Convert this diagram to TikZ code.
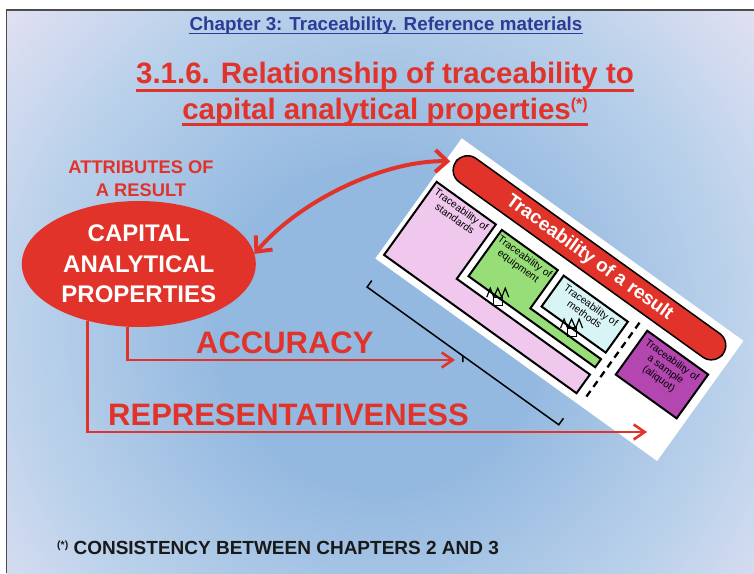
\documentclass[tikz,border=0pt]{standalone}
\usepackage{fontspec}
\setmainfont{Liberation Sans}
\usetikzlibrary{arrows.meta, shapes.geometric}

\definecolor{slideblue}{HTML}{94B9E0}
\definecolor{slidemid}{HTML}{BCD2EB}
\definecolor{slideedge}{HTML}{E6E2F3}
\definecolor{slidecorner}{HTML}{F3E9F7}
\definecolor{chapblue}{HTML}{2E3A96}
\definecolor{tred}{HTML}{E1332A}
\definecolor{stdpink}{HTML}{F0C8EE}
\definecolor{eqgreen}{HTML}{98DE78}
\definecolor{methcyan}{HTML}{D8F4F4}
\definecolor{smpurple}{HTML}{B446B0}

\pgfdeclareradialshading{slidebg}{\pgfpoint{0bp}{0bp}}{color(0bp)=(slideblue); color(11bp)=(slideblue); color(24bp)=(slidemid); color(34bp)=(slideedge); color(75bp)=(slidecorner)}

\tikzset{
  linkmark/.pic={
    \draw[line width=1.2pt] (-11,0) -- (-7.5,-9) -- (-4,0) -- (0,-9) -- (4,0) -- (7.5,-9) -- (11,0);
    \draw[line width=1.2pt] (-4.5,0) rectangle (4.5,8.5);
  }
}

\begin{document}
\begin{tikzpicture}[x=1pt, y=-1pt,
  chaptext/.style={font={\bfseries\fontsize{18.8}{22}\selectfont}, text=chapblue, inner sep=0pt},
  titletext/.style={font={\bfseries\fontsize{29.5}{34}\selectfont}, text=tred, inner sep=0pt},
  attrtext/.style={font={\bfseries\fontsize{18.3}{22.7}\selectfont}, text=tred, align=center, inner sep=0pt},
  capell/.style={ellipse, fill=tred, minimum width=234pt, minimum height=126pt, inner sep=0pt,
    text=white, align=center, font={\bfseries\fontsize{24}{30.5}\selectfont}},
  bigword/.style={font={\bfseries\fontsize{31}{36}\selectfont}, text=tred, inner sep=0pt},
  foottext/.style={font={\bfseries\fontsize{19}{22}\selectfont}, text=black!90, inner sep=0pt},
  redline/.style={draw=tred, line width=2.6pt, arrows={-Straight Barb[length=11pt,width=15pt]}},
  curvearrow/.style={draw=tred, line width=4pt,
    arrows={Straight Barb[length=12pt,width=22pt]-Straight Barb[length=12pt,width=22pt]}},
  boxline/.style={draw=black, line width=2pt, line join=miter},
  pill/.style={draw=black, line width=1.5pt, fill=tred, rounded corners=14.5pt, minimum width=329pt,
    minimum height=29pt, inner sep=0pt, text=white, font={\bfseries\fontsize{19}{22}\selectfont}, transform shape},
  boxtext/.style={anchor=north, align=center, inner sep=0pt, text=black,
    font={\fontsize{10.3}{11.3}\selectfont}, transform shape},
  brk/.style={draw=black, line width=1.5pt}
]
\useasboundingbox (0,0) rectangle (754,573);

% slide
\fill[white] (0,0) rectangle (754,573);
\begin{scope}
  \clip (6.5,10) rectangle (754,573);
  \shade[shading=slidebg] (6.5,-45) rectangle (754,700);
\end{scope}
\draw[black!70, line width=1.2pt] (6.5,573) -- (6.5,10) -- (754,10);

% headings
\node[chaptext, anchor=base] (chap) at (386,30.7) {Chapter 3: Traceability. Reference materials};
\draw[chapblue, line width=1.8pt] ([yshift=-2.8pt]chap.base west) -- ([yshift=-2.8pt]chap.base east);
\node[titletext, anchor=base] (tl1) at (385,83.5) {3.1.6. Relationship of traceability to};
\node[titletext, anchor=base] (tl2) at (385,119) {capital analytical properties\raisebox{10pt}{\fontsize{16}{16}\selectfont(*)}};
\draw[tred, line width=3pt] ([yshift=-6.5pt]tl1.base west) -- ([yshift=-6.5pt]tl1.base east);
\draw[tred, line width=3pt] ([yshift=-5.5pt]tl2.base west) -- ([yshift=-5.5pt]tl2.base east);

% tarjeta girada
\begin{scope}[shift={(461.7,138.3)}, rotate=-35.7]
  \fill[white] (0,0) rectangle (347,148);
  \draw[boxline, fill=stdpink] (5,50) -- (78,50) -- (78,117) -- (242,117) -- (242,140) -- (5,140) -- cycle;
  \draw[boxline, fill=eqgreen] (86,51) -- (155,51) -- (155,98) -- (242,98) -- (242,108) -- (86,108) -- cycle;
  \draw[boxline, fill=methcyan] (163,52) rectangle (242,90);
  \draw[boxline, fill=smpurple] (263,48) rectangle (338,102);
  \draw[boxline, line width=2.3pt, dash pattern=on 7pt off 5pt] (252,46) -- (252,140);
  \node[pill] (pill) at (173.5,22.5) {Traceability of a result};
  \node[boxtext] (stdlbl) at (41.5,54) {Traceability of\\standards};
  \node[boxtext] (eqlbl) at (120.5,55) {Traceability of\\equipment};
  \node[boxtext] (methlbl) at (202.5,56) {Traceability of\\methods};
  \node[boxtext] (smplbl) at (300.5,53) {Traceability of\\a sample\\(aliquot)};
  \pic at (122,108) {linkmark};
  \pic at (200,90) {linkmark};
  % corchete
  \draw[brk] (10,168) -- (10,176) -- (246,176) -- (246,168);
  \draw[brk] (128,176) -- (131.5,181);
\end{scope}

% atributos
\node[attrtext, anchor=north] (attr) at (141,160.7) {ATTRIBUTES OF\\A RESULT};
\node[capell] (cap) at (138.8,264) {CAPITAL\\ANALYTICAL\\PROPERTIES};
\node[bigword, anchor=base west] (acc) at (196,353.5) {ACCURACY};
\node[bigword, anchor=base west] (rep) at (108,425) {REPRESENTATIVENESS};
\coordinate (accTip) at (455,360);
\coordinate (repTip) at (647,432);
\draw[redline] (cap.260) |- (accTip);
\draw[redline] (cap.228) |- (repTip);
\draw[curvearrow, shorten >=5pt] (cap.5) .. controls (300,200) and (385,160) .. (pill.west);

% nota
\node[foottext, anchor=base west] (foot) at (57,554) {\raisebox{6pt}{\fontsize{10.5}{11}\selectfont(*)} CONSISTENCY BETWEEN CHAPTERS 2 AND 3};
\end{tikzpicture}
\end{document}
